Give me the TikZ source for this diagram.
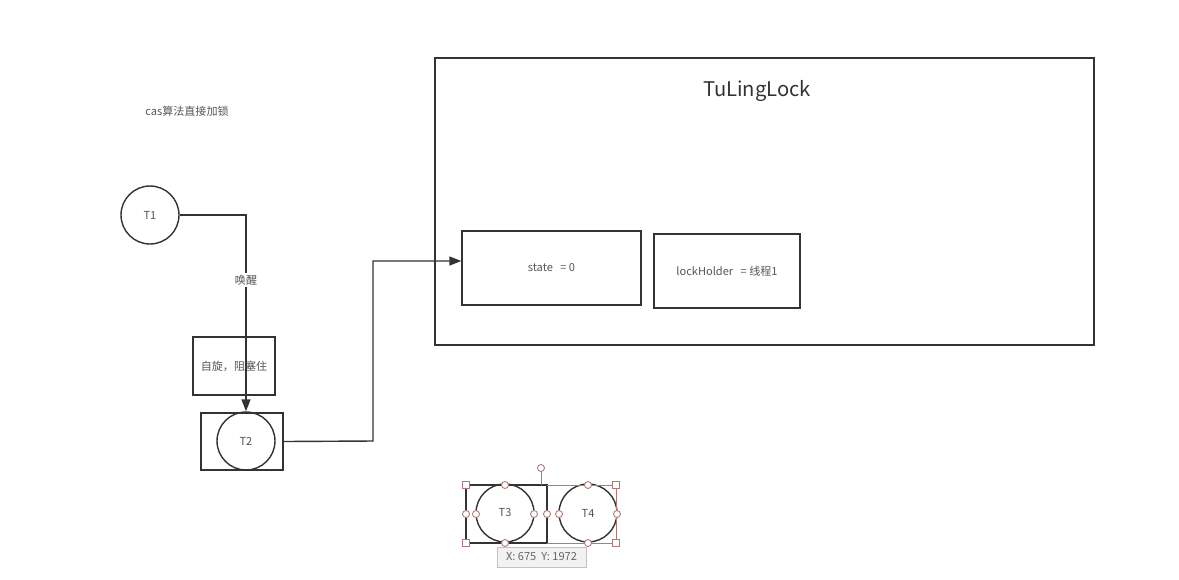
\documentclass[tikz,border=0pt]{standalone}
\usepackage{fontspec}
\setmainfont{Noto Sans CJK SC}
\usetikzlibrary{positioning,calc,arrows.meta}
\definecolor{linecolor}{HTML}{333333}
\definecolor{textcolor}{HTML}{555555}
\definecolor{handlecolor}{HTML}{B07878}
\definecolor{tipfill}{HTML}{F2F2F2}

\begin{document}
\begin{tikzpicture}[
  x=0.02cm, y=-0.02cm,
  font=\fontsize{6.3}{7.5}\selectfont,
  >={Triangle[length=2.4mm,width=1.8mm]},
  thread/.style={draw=linecolor, line width=0.8pt, circle,
    minimum size=1.16cm, inner sep=0pt, text=textcolor},
  field/.style 2 args={draw=linecolor, line width=0.8pt,
    minimum width=#1, minimum height=#2, inner sep=0pt, text=textcolor},
  flow/.style={->, draw=linecolor, line width=0.8pt},
  handle/.style={draw=handlecolor, fill=white, line width=0.5pt, circle,
    minimum size=1.4mm, inner sep=0pt},
  corner/.style={draw=handlecolor, fill=white, line width=0.5pt,
    minimum size=1.3mm, inner sep=0pt},
]
\useasboundingbox (0,0) rectangle (1179,579);

% --- caption --------------------------------------------------------
\node[text=textcolor] (cas) at (187,111) {cas算法直接加锁};

% --- lock object ----------------------------------------------------
\node[field={13.18cm}{5.74cm}] (lock) at (764.5,201.5) {};
\node[text=linecolor, font=\fontsize{11.5}{13}\selectfont] (title) at (757,91) {TuLingLock};
\node[field={3.58cm}{1.48cm}] (state) at (551.5,268) {state\ \ \ = 0};
\node[field={2.92cm}{1.48cm}] (holder) at (727,271) {lockHolder\ \ \ = 线程1};

% --- threads --------------------------------------------------------
\node[thread] (T1) at (150,215) {T1};
\node[field={1.64cm}{1.16cm}] (spin) at (234,366) {自旋，阻塞住};
\node[field={1.64cm}{1.14cm}] (T2box) at (242,441.5) {};
\node[thread] (T2) at (246,441) {T2};

\draw[flow] (T1.east) -| (T2.north)
  node[pos=0.665, fill=white, inner sep=1pt, text=textcolor] (wake) {唤醒};
\coordinate (bend) at (373,441);
\draw[flow] (T2box.east) -- (bend) |- ($(state.west)+(0,-7)$);

% --- selected threads -----------------------------------------------
\node[field={1.62cm}{1.16cm}] (T3box) at (506.5,514) {};
\node[thread] (T3) at (505,513) {T3};
\node[thread] (T4) at (588,513) {T4};
\draw[handlecolor, line width=0.5pt] (547,485) -- (616,485) -- (616,543) -- (547,543);
\draw[handlecolor, line width=0.5pt] (541,485) -- (541,468);
\node[handle] (rot) at (541,468) {};
\foreach \cx/\cy in {466/485, 616/485, 466/543, 616/543}
  \node[corner] at (\cx,\cy) {};
\foreach \cx/\cy in {466/514, 505/485, 505/543, 476/514, 534/514,
                     547/514, 559/514, 588/485, 588/543, 617/514}
  \node[handle] at (\cx,\cy) {};

% --- position tip ---------------------------------------------------
\node[draw=tipfill!80!black, fill=tipfill, line width=0.4pt,
  minimum width=1.78cm, minimum height=0.4cm, inner sep=0pt,
  text=textcolor!90] (tip) at (541.5,557) {X: 675\ \ Y: 1972};
\end{tikzpicture}
\end{document}
